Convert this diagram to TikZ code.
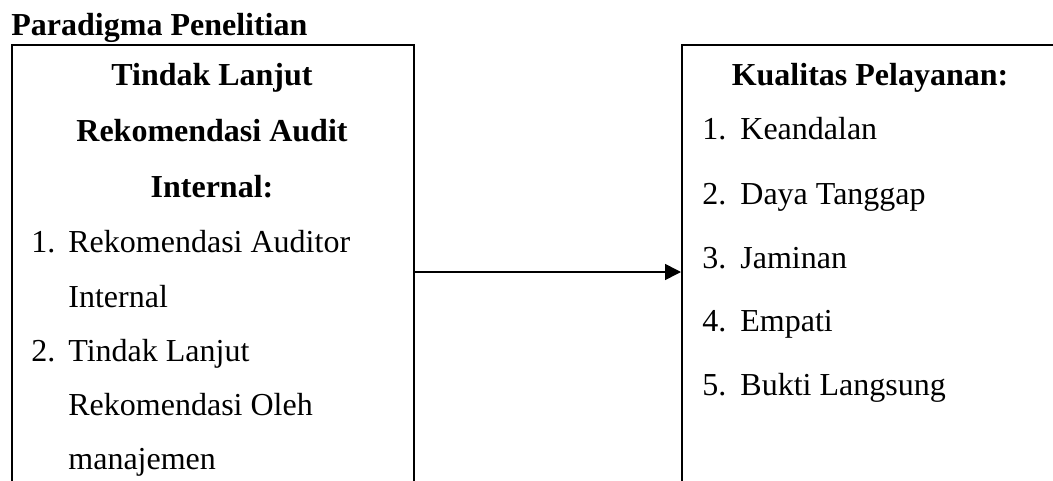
\documentclass[tikz,border=0pt]{standalone}
\usepackage{fontspec}
\setmainfont{Liberation Serif}
\usetikzlibrary{arrows.meta}
\begin{document}
\begin{tikzpicture}[x=0.5pt,y=-0.5pt,
  txt/.style={inner sep=0pt,anchor=base west,font=\fontsize{16}{19}\selectfont},
  ctxt/.style={inner sep=0pt,anchor=base,font=\bfseries\fontsize{16}{19}\selectfont},
  ttl/.style={inner sep=0pt,anchor=base west,font=\bfseries\fontsize{16}{19}\selectfont},
  boxframe/.style={draw,line width=0.8pt,inner sep=0pt,anchor=north west,minimum height=300pt},
  conn/.style={line width=0.8pt,-{Triangle[length=8pt,width=8pt]}}]
\useasboundingbox (0,0) rectangle (1053,481);
\clip (0,0) rectangle (1053,481);

\node[ttl] (title) at (11,36) {Paradigma Penelitian};

\node[boxframe,minimum width=201pt] (L) at (11,44) {};
\node[boxframe,minimum width=220pt] (R) at (681,44) {};

\coordinate (ay) at (0,272);
\draw[conn] (L.east |- ay) -- (R.west |- ay);

% left box
\node[ctxt] (l1) at (212,85) {Tindak Lanjut};
\node[ctxt] (l2) at (212,141) {Rekomendasi Audit};
\node[ctxt] (l3) at (212,197) {Internal:};
\node[txt] (ln1) at (31,252) {1.};
\node[txt] (li1) at (68,252) {Rekomendasi Auditor};
\node[txt] (li1b) at (68,307) {Internal};
\node[txt] (ln2) at (31,361) {2.};
\node[txt] (li2) at (68,361) {Tindak Lanjut};
\node[txt] (li2b) at (68,415) {Rekomendasi Oleh};
\node[txt] (li2c) at (68,469) {manajemen};

% right box
\node[ctxt] (r0) at (870,86) {Kualitas Pelayanan:};
\node[txt] (rn1) at (702,140) {1.};
\node[txt] (ri1) at (740,140) {Keandalan};
\node[txt] (rn2) at (702,204) {2.};
\node[txt] (ri2) at (740,204) {Daya Tanggap};
\node[txt] (rn3) at (702,268) {3.};
\node[txt] (ri3) at (740,268) {Jaminan};
\node[txt] (rn4) at (702,331) {4.};
\node[txt] (ri4) at (740,331) {Empati};
\node[txt] (rn5) at (702,395) {5.};
\node[txt] (ri5) at (740,395) {Bukti Langsung};
\end{tikzpicture}
\end{document}
